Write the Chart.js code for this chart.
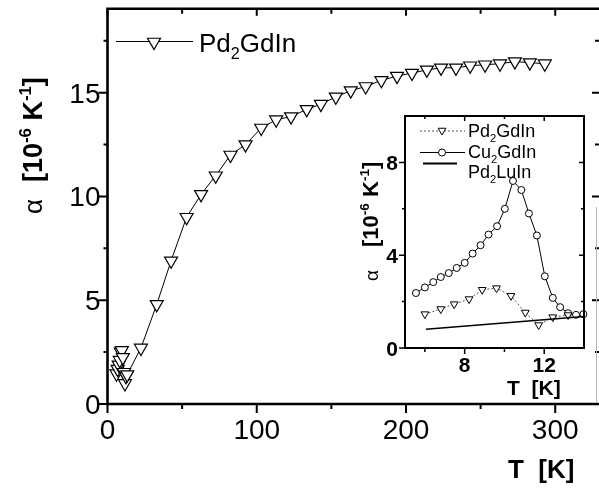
<!DOCTYPE html>
<html><head><meta charset="utf-8">
<script src="https://cdn.jsdelivr.net/npm/chart.js@4"></script>
<style>
html,body{margin:0;padding:0;background:#fff;}
#wrap{position:relative;width:599px;height:490px;}
#main{position:absolute;left:0;top:0;}
#inset{position:absolute;left:340px;top:100px;}
</style></head>
<body><div id="wrap"><canvas id="main" width="599" height="490"></canvas><canvas id="inset" width="250" height="310"></canvas></div>
<script>
// ---- data ----
const mainT     = [6.0, 6.8, 7.5, 8.2, 8.9, 9.6, 10.3, 11.1, 11.7, 12.4, 13.2, 22.4, 33, 42.6, 53, 62.7, 72.5, 82.4, 92.5, 103, 113, 123, 133.5, 143, 153, 163, 173, 183.5, 194, 204, 214, 223.5, 233.5, 243, 253, 263, 273, 283, 293];
const mainAlpha = [1.46, 1.68, 1.89, 2.11, 2.51, 2.58, 2.25, 1.53, 0.99, 1.33, 1.42, 2.7, 4.8, 6.9, 9.0, 10.1, 11.0, 12.0, 12.5, 13.3, 13.7, 13.85, 14.2, 14.45, 14.8, 15.1, 15.3, 15.6, 15.8, 15.95, 16.1, 16.2, 16.2, 16.3, 16.35, 16.4, 16.5, 16.45, 16.4];

const insetPdT     = [6.0, 6.8, 7.47, 8.22, 8.88, 9.6, 10.33, 11.05, 11.72, 12.43, 13.2];
const insetPdAlpha = [1.46, 1.68, 1.89, 2.11, 2.51, 2.58, 2.25, 1.53, 0.99, 1.33, 1.42];
const insetCuT     = [5.55, 6.0, 6.42, 6.8, 7.2, 7.6, 8.0, 8.4, 8.8, 9.2, 9.63, 10.02, 10.43, 10.85, 11.23, 11.63, 12.03, 12.43, 12.8, 13.2, 13.6, 13.97];
const insetCuAlpha = [2.37, 2.61, 2.84, 3.06, 3.23, 3.45, 3.67, 4.07, 4.43, 4.89, 5.25, 6.0, 7.2, 6.81, 5.8, 4.85, 3.09, 2.16, 1.76, 1.5, 1.43, 1.46];
const insetLuT     = [6.05, 14.0];
const insetLuAlpha = [0.81, 1.36];

const mainXTicks = [0, 100, 200, 300];
const mainXMinor = [50, 150, 250];
const mainYTicks = [0, 5, 10, 15];
const mainYMinor = [2.5, 7.5, 12.5, 17.5];
const insetXTicks = [8, 12];
const insetXMinor = [6, 10];
const insetYTicks = [0, 4, 8];
const insetYMinor = [2, 6];

const FF = '"Liberation Sans", Arial, Helvetica, sans-serif';

function rich(ctx, x, y, parts, size, weight) {
  let cx = x;
  for (const p of parts) {
    const s = (p.sub || p.sup) ? size * 0.62 : size;
    ctx.font = `${weight} ${s}px ${FF}`;
    const dy = p.sub ? size * 0.28 : (p.sup ? -size * 0.42 : 0);
    ctx.fillText(p.t, cx, y + dy);
    cx += ctx.measureText(p.t).width;
  }
  return cx;
}

function pts(xs, ys) { return xs.map((v, i) => ({x: v, y: ys[i]})); }

function drawTriangle(ctx, x, y, r) {
  ctx.beginPath();
  ctx.moveTo(x - r * 0.866, y - r * 0.5);
  ctx.lineTo(x + r * 0.866, y - r * 0.5);
  ctx.lineTo(x, y + r);
  ctx.closePath();
  ctx.fillStyle = '#fff'; ctx.fill(); ctx.stroke();
}

// ---------- main chart ----------
const mainPlugin = {
  id: 'mainAxes',
  afterDraw(chart) {
    const {ctx, chartArea: a, scales: {x, y}} = chart;
    ctx.save();
    ctx.strokeStyle = '#000'; ctx.fillStyle = '#000';
    ctx.lineWidth = 2.6; ctx.lineCap = 'butt';
    ctx.beginPath();
    ctx.moveTo(a.left, a.top); ctx.lineTo(a.left, a.bottom + 1.3);
    ctx.moveTo(a.left - 1.3, a.bottom); ctx.lineTo(599, a.bottom);
    ctx.moveTo(a.left - 1.3, a.top); ctx.lineTo(599, a.top);
    ctx.stroke();
    ctx.lineWidth = 2;
    ctx.beginPath();
    for (const v of mainXTicks) { const p = x.getPixelForValue(v);
      ctx.moveTo(p, a.bottom); ctx.lineTo(p, a.bottom + 9);
      ctx.moveTo(p, a.top); ctx.lineTo(p, a.top + 7); }
    for (const v of mainXMinor) { const p = x.getPixelForValue(v);
      ctx.moveTo(p, a.bottom); ctx.lineTo(p, a.bottom + 5);
      ctx.moveTo(p, a.top); ctx.lineTo(p, a.top + 5); }
    for (const v of mainYTicks) { const p = y.getPixelForValue(v);
      ctx.moveTo(a.left, p); ctx.lineTo(a.left - 9, p);
      ctx.moveTo(599, p); ctx.lineTo(592, p); }
    for (const v of mainYMinor) { const p = y.getPixelForValue(v);
      ctx.moveTo(a.left, p); ctx.lineTo(a.left - 4, p);
      ctx.moveTo(599, p); ctx.lineTo(595, p); }
    ctx.stroke();
    // faint scan line at right
    ctx.strokeStyle = '#b5b5b5'; ctx.lineWidth = 1;
    ctx.beginPath(); ctx.moveTo(596.5, 207); ctx.lineTo(596.5, a.bottom - 2); ctx.stroke();

    // tick labels
    ctx.fillStyle = '#000';
    ctx.font = `28px ${FF}`;
    ctx.textAlign = 'right'; ctx.textBaseline = 'alphabetic';
    for (const v of mainYTicks) ctx.fillText(String(v), a.left - 7, y.getPixelForValue(v) + 10);
    ctx.textAlign = 'center';
    for (const v of mainXTicks) ctx.fillText(String(v), x.getPixelForValue(v), a.bottom + 35);

    // axis titles
    ctx.textAlign = 'left';
    ctx.font = `bold 26px ${FF}`;
    ctx.fillText('T  [K]', 508, 478);
    ctx.save();
    ctx.translate(42, 0); ctx.rotate(-Math.PI / 2);
    ctx.font = `26px ${FF}`;
    ctx.fillText('\u03b1', -214, 0);
    rich(ctx, -182, 0, [{t:'[10'},{t:'-6',sup:true},{t:' K'},{t:'-1',sup:true},{t:']'}], 27, 'bold');
    ctx.restore();

    // legend
    ctx.strokeStyle = '#000'; ctx.lineWidth = 1;
    ctx.beginPath(); ctx.moveTo(116, 41.5); ctx.lineTo(193, 41.5); ctx.stroke();
    ctx.lineWidth = 1.2;
    drawTriangle(ctx, 154, 42, 7.5);
    ctx.fillStyle = '#000';
    rich(ctx, 199, 52, [{t:'Pd'},{t:'2',sub:true},{t:'GdIn'}], 26, 'normal');
    ctx.restore();
  }
};

new Chart(document.getElementById('main'), {
  type: 'scatter',
  data: { datasets: [{
    data: pts(mainT, mainAlpha), showLine: true, borderColor: '#000', borderWidth: 1,
    pointStyle: 'triangle', rotation: 180, pointRadius: 7.5,
    pointBackgroundColor: '#fff', pointBorderColor: '#000', pointBorderWidth: 1.2, clip: false
  }]},
  options: {
    responsive: false, animation: false, devicePixelRatio: 1,
    layout: { padding: { left: 0, right: 0, top: 7, bottom: 0 } },
    plugins: { legend: { display: false }, tooltip: { enabled: false } },
    scales: {
      x: { type: 'linear', min: 0, max: 323.5, grid: { display: false }, border: { display: false },
           ticks: { display: false }, afterFit: s => { s.height = 86; } },
      y: { type: 'linear', min: 0, max: 19.05, grid: { display: false }, border: { display: false },
           ticks: { display: false }, afterFit: s => { s.width = 107.5; } }
    }
  },
  plugins: [mainPlugin]
});

// ---------- inset chart ----------
const insetPlugin = {
  id: 'insetAxes',
  beforeDatasetsDraw(chart) {
    const {ctx, chartArea: a} = chart;
    ctx.save();
    ctx.fillStyle = '#fff';
    ctx.fillRect(a.left, a.top, a.right - a.left, a.bottom - a.top);
    // legend
    ctx.strokeStyle = '#555'; ctx.lineWidth = 1; ctx.setLineDash([2, 2]);
    ctx.beginPath(); ctx.moveTo(80, 31); ctx.lineTo(125, 31); ctx.stroke();
    ctx.setLineDash([]);
    ctx.strokeStyle = '#000';
    drawTriangle(ctx, 102, 30.5, 4.5);
    ctx.beginPath(); ctx.moveTo(80, 52.5); ctx.lineTo(125, 52.5); ctx.stroke();
    ctx.beginPath(); ctx.arc(102, 52.5, 3.5, 0, Math.PI * 2); ctx.fillStyle = '#fff'; ctx.fill(); ctx.stroke();
    ctx.lineWidth = 2;
    ctx.beginPath(); ctx.moveTo(83, 63.5); ctx.lineTo(117, 63.5); ctx.stroke();
    ctx.fillStyle = '#000';
    rich(ctx, 128, 37, [{t:'Pd'},{t:'2',sub:true},{t:'GdIn'}], 18, 'normal');
    rich(ctx, 128, 58, [{t:'Cu'},{t:'2',sub:true},{t:'GdIn'}], 18, 'normal');
    rich(ctx, 128, 78, [{t:'Pd'},{t:'2',sub:true},{t:'LuIn'}], 18, 'normal');
    ctx.restore();
  },
  afterDraw(chart) {
    const {ctx, chartArea: a, scales: {x, y}} = chart;
    ctx.save();
    ctx.strokeStyle = '#000'; ctx.fillStyle = '#000';
    ctx.lineWidth = 2;
    ctx.strokeRect(a.left, a.top, a.right - a.left, a.bottom - a.top);
    ctx.lineWidth = 1.5;
    ctx.beginPath();
    for (const v of insetXTicks) { const p = x.getPixelForValue(v);
      ctx.moveTo(p, a.bottom); ctx.lineTo(p, a.bottom + 6);
      ctx.moveTo(p, a.top); ctx.lineTo(p, a.top + 5); }
    for (const v of insetXMinor) { const p = x.getPixelForValue(v);
      ctx.moveTo(p, a.bottom); ctx.lineTo(p, a.bottom + 4);
      ctx.moveTo(p, a.top); ctx.lineTo(p, a.top + 3); }
    for (const v of insetYTicks) { const p = y.getPixelForValue(v);
      ctx.moveTo(a.left, p); ctx.lineTo(a.left - 6, p);
      ctx.moveTo(a.right, p); ctx.lineTo(a.right - 5, p); }
    for (const v of insetYMinor) { const p = y.getPixelForValue(v);
      ctx.moveTo(a.left, p); ctx.lineTo(a.left - 3, p);
      ctx.moveTo(a.right, p); ctx.lineTo(a.right - 3, p); }
    ctx.stroke();
    ctx.font = `bold 21px ${FF}`;
    ctx.textAlign = 'right';
    for (const v of insetYTicks) ctx.fillText(String(v), a.left - 7, y.getPixelForValue(v) + 7.5);
    ctx.textAlign = 'center';
    for (const v of insetXTicks) ctx.fillText(String(v), x.getPixelForValue(v), a.bottom + 24);
    ctx.textAlign = 'left';
    ctx.font = `bold 21px ${FF}`;
    ctx.fillText('T  [K]', 167, 295);
    ctx.save();
    ctx.translate(38, 0); ctx.rotate(-Math.PI / 2);
    ctx.font = `19px ${FF}`;
    ctx.fillText('\u03b1', -181, 0);
    rich(ctx, -147, 0, [{t:'[10'},{t:'-6',sup:true},{t:' K'},{t:'-1',sup:true},{t:']'}], 22, 'bold');
    ctx.restore();
    ctx.restore();
  }
};

new Chart(document.getElementById('inset'), {
  type: 'scatter',
  data: { datasets: [
    { data: pts(insetLuT, insetLuAlpha), showLine: true, borderColor: '#000', borderWidth: 1.6,
      pointRadius: 0, clip: false },
    { data: pts(insetPdT, insetPdAlpha), showLine: true, borderColor: '#555', borderWidth: 1, borderDash: [2, 2],
      pointStyle: 'triangle', rotation: 180, pointRadius: 4.5,
      pointBackgroundColor: '#fff', pointBorderColor: '#000', pointBorderWidth: 1, clip: false },
    { data: pts(insetCuT, insetCuAlpha), showLine: true, borderColor: '#000', borderWidth: 1,
      pointStyle: 'circle', pointRadius: 3.5,
      pointBackgroundColor: '#fff', pointBorderColor: '#000', pointBorderWidth: 1, clip: false }
  ]},
  options: {
    responsive: false, animation: false, devicePixelRatio: 1,
    layout: { padding: { left: 0, right: 6, top: 16, bottom: 0 } },
    plugins: { legend: { display: false }, tooltip: { enabled: false } },
    scales: {
      x: { type: 'linear', min: 5, max: 14, grid: { display: false }, border: { display: false },
           ticks: { display: false }, afterFit: s => { s.height = 62; } },
      y: { type: 'linear', min: 0, max: 10, grid: { display: false }, border: { display: false },
           ticks: { display: false }, afterFit: s => { s.width = 65; } }
    }
  },
  plugins: [insetPlugin]
});
</script>
</body></html>
